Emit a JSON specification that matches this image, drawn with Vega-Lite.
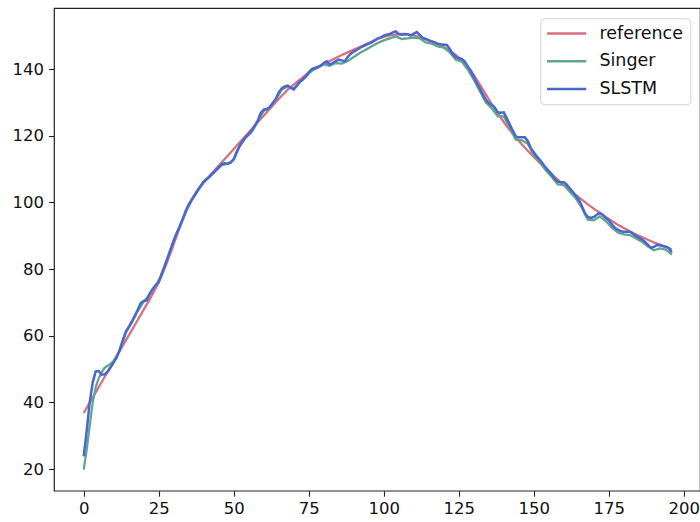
{
  "$schema": "https://vega.github.io/schema/vega-lite/v6.json",
  "width": 646,
  "height": 482.7,
  "autosize": {"type": "none"},
  "padding": {"left": 54, "top": 8, "right": 0, "bottom": 31.3},
  "background": "white",
  "config": {
    "view": {"stroke": "#222222", "strokeWidth": 1.2},
    "axis": {
      "domain": false,
      "grid": false,
      "ticks": true,
      "tickColor": "#222222",
      "tickSize": 5.5,
      "tickWidth": 1.1,
      "labelFont": "DejaVu Sans",
      "labelFontSize": 16.5,
      "labelColor": "#111111",
      "labelPadding": 4,
      "title": null
    },
    "legend": {
      "orient": "none",
      "legendX": 486.3,
      "legendY": 10.3,
      "symbolType": "M-2.8,0H2.8",
      "symbolStrokeWidth": 2.4,
      "symbolSize": 196,
      "symbolOffset": 11.1,
      "labelFont": "DejaVu Sans",
      "labelFontSize": 17.5,
      "labelColor": "#111111",
      "strokeColor": "#d0d0d0",
      "fillColor": "rgba(255,255,255,0.85)",
      "cornerRadius": 4,
      "padding": 6.5,
      "rowPadding": 8.7,
      "labelOffset": 24
    }
  },
  "datasets": {
    "reference": [
      {"x":0,"y":36.8},{"x":2,"y":39.9},{"x":4,"y":43.0},{"x":6,"y":46.1},{"x":8,"y":49.2},{"x":10,"y":52.3},{"x":12,"y":55.4},{"x":14,"y":58.5},{"x":16,"y":61.6},{"x":18,"y":64.7},{"x":20,"y":67.8},{"x":22,"y":70.9},{"x":24,"y":74.2},{"x":26,"y":78.0},{"x":28,"y":82.5},{"x":30,"y":87.5},{"x":32,"y":92.5},{"x":34,"y":97.0},{"x":36,"y":100.8},{"x":38,"y":103.8},{"x":40,"y":106.0},{"x":42,"y":108.0},{"x":44,"y":110.0},{"x":46,"y":112.0},{"x":48,"y":114.0},{"x":50,"y":116.0},{"x":52,"y":118.0},{"x":54,"y":120.0},{"x":56,"y":122.0},{"x":58,"y":124.0},{"x":60,"y":126.0},{"x":62,"y":128.0},{"x":64,"y":130.0},{"x":66,"y":132.0},{"x":68,"y":133.8},{"x":70,"y":135.3},{"x":72,"y":136.8},{"x":74,"y":138.2},{"x":76,"y":139.4},{"x":78,"y":140.5},{"x":80,"y":141.5},{"x":82,"y":142.4},{"x":84,"y":143.3},{"x":86,"y":144.2},{"x":88,"y":145.0},{"x":90,"y":145.8},{"x":92,"y":146.6},{"x":94,"y":147.4},{"x":96,"y":148.2},{"x":98,"y":149.0},{"x":100,"y":149.6},{"x":102,"y":150.1},{"x":104,"y":150.4},{"x":106,"y":150.5},{"x":108,"y":150.4},{"x":110,"y":150.1},{"x":112,"y":149.6},{"x":114,"y":149.0},{"x":116,"y":148.3},{"x":118,"y":147.5},{"x":120,"y":146.6},{"x":122,"y":145.5},{"x":124,"y":144.2},{"x":126,"y":142.6},{"x":128,"y":140.6},{"x":130,"y":138.2},{"x":132,"y":135.4},{"x":134,"y":132.4},{"x":136,"y":129.5},{"x":138,"y":126.7},{"x":140,"y":124.1},{"x":142,"y":121.7},{"x":144,"y":119.5},{"x":146,"y":117.4},{"x":148,"y":115.5},{"x":150,"y":113.6},{"x":152,"y":111.8},{"x":154,"y":110.1},{"x":156,"y":108.4},{"x":158,"y":106.8},{"x":160,"y":105.2},{"x":162,"y":103.7},{"x":164,"y":102.2},{"x":166,"y":100.8},{"x":168,"y":99.4},{"x":170,"y":98.1},{"x":172,"y":96.8},{"x":174,"y":95.6},{"x":176,"y":94.4},{"x":178,"y":93.3},{"x":180,"y":92.3},{"x":182,"y":91.3},{"x":184,"y":90.4},{"x":186,"y":89.6},{"x":188,"y":88.8},{"x":190,"y":88.0},{"x":192,"y":87.3},{"x":194,"y":86.6},{"x":196,"y":85.9}
    ],
    "singer": [
      {"x":0,"y":19.8},{"x":1,"y":25.8},{"x":2,"y":33},{"x":3,"y":40},{"x":4,"y":44.5},{"x":5,"y":47.2},{"x":6,"y":49},{"x":7,"y":50.4},{"x":8,"y":51},{"x":9,"y":51.6},{"x":10,"y":52.4},{"x":12,"y":55.5},{"x":14,"y":60.8},{"x":16,"y":63.8},{"x":18,"y":67.4},{"x":20,"y":70.2},{"x":22,"y":72.4},{"x":24,"y":75},{"x":26,"y":78.4},{"x":28,"y":83.3},{"x":30,"y":88.4},{"x":32,"y":92.6},{"x":34,"y":97.2},{"x":36,"y":100.6},{"x":38,"y":103.4},{"x":40,"y":106},{"x":42,"y":107.6},{"x":44,"y":109.4},{"x":46,"y":111.2},{"x":48,"y":111.6},{"x":50,"y":112.8},{"x":52,"y":116.8},{"x":54,"y":119.4},{"x":56,"y":121.2},{"x":58,"y":124.2},{"x":60,"y":127.4},{"x":62,"y":128.4},{"x":64,"y":130.8},{"x":66,"y":133.8},{"x":68,"y":134.8},{"x":70,"y":133.8},{"x":72,"y":136},{"x":74,"y":137.6},{"x":76,"y":139.6},{"x":78,"y":140.4},{"x":80,"y":141.4},{"x":82,"y":141},{"x":84,"y":141.8},{"x":86,"y":141.6},{"x":88,"y":142.4},{"x":90,"y":143.6},{"x":92,"y":144.8},{"x":94,"y":145.8},{"x":96,"y":146.8},{"x":98,"y":147.8},{"x":100,"y":148.6},{"x":102,"y":149.2},{"x":104,"y":149.8},{"x":106,"y":149},{"x":108,"y":149.2},{"x":110,"y":149.4},{"x":112,"y":149.2},{"x":114,"y":148},{"x":116,"y":147.6},{"x":118,"y":146.8},{"x":120,"y":146.4},{"x":122,"y":145},{"x":124,"y":142.8},{"x":126,"y":142.2},{"x":128,"y":139.8},{"x":130,"y":136.8},{"x":132,"y":133.4},{"x":134,"y":130},{"x":136,"y":128.2},{"x":138,"y":125.8},{"x":140,"y":125.8},{"x":142,"y":122.4},{"x":144,"y":118.8},{"x":146,"y":118.6},{"x":148,"y":117.6},{"x":150,"y":114.2},{"x":152,"y":112},{"x":154,"y":109.6},{"x":156,"y":107.6},{"x":158,"y":105.4},{"x":160,"y":105.2},{"x":162,"y":103.2},{"x":164,"y":101.2},{"x":166,"y":98.4},{"x":168,"y":94.8},{"x":170,"y":94.6},{"x":172,"y":95.8},{"x":174,"y":94.4},{"x":176,"y":92.4},{"x":178,"y":91},{"x":180,"y":90.4},{"x":182,"y":90.2},{"x":184,"y":89.2},{"x":186,"y":88.2},{"x":188,"y":86.8},{"x":190,"y":85.6},{"x":192,"y":86.2},{"x":194,"y":85.8},{"x":196,"y":84.3}
    ],
    "slstm": [
      {"x":0,"y":23.8},{"x":1,"y":31.5},{"x":2,"y":40},{"x":3,"y":46},{"x":4,"y":49.3},{"x":5,"y":49.4},{"x":6,"y":48.3},{"x":7,"y":48.4},{"x":8,"y":49.3},{"x":9,"y":50.5},{"x":10,"y":52},{"x":11,"y":53.5},{"x":12,"y":55.8},{"x":13,"y":58.5},{"x":14,"y":61.2},{"x":15,"y":62.6},{"x":16,"y":64.2},{"x":17,"y":66},{"x":18,"y":67.8},{"x":19,"y":69.8},{"x":20,"y":70.4},{"x":21,"y":70.6},{"x":22,"y":72.6},{"x":23,"y":74},{"x":24,"y":75.2},{"x":25,"y":76},{"x":26,"y":78.6},{"x":27,"y":81},{"x":28,"y":83.5},{"x":29,"y":86},{"x":30,"y":88.6},{"x":31,"y":90.8},{"x":32,"y":92.8},{"x":33,"y":95},{"x":34,"y":97.4},{"x":35,"y":99.4},{"x":36,"y":100.8},{"x":37,"y":102.2},{"x":38,"y":103.6},{"x":39,"y":105},{"x":40,"y":106.2},{"x":42,"y":107.8},{"x":44,"y":109.6},{"x":46,"y":111.4},{"x":47,"y":111.7},{"x":48,"y":111.6},{"x":49,"y":111.9},{"x":50,"y":113},{"x":51,"y":115.2},{"x":52,"y":117},{"x":53,"y":118.4},{"x":54,"y":119.6},{"x":56,"y":121.4},{"x":57,"y":123},{"x":58,"y":124.5},{"x":59,"y":126.8},{"x":60,"y":127.8},{"x":61,"y":128},{"x":62,"y":128.6},{"x":63,"y":129.8},{"x":64,"y":131},{"x":65,"y":133},{"x":66,"y":134.2},{"x":67,"y":134.8},{"x":68,"y":135},{"x":69,"y":134.4},{"x":70,"y":134},{"x":71,"y":135},{"x":72,"y":136.2},{"x":73,"y":136.8},{"x":74,"y":137.8},{"x":75,"y":139},{"x":76,"y":140},{"x":77,"y":140.3},{"x":78,"y":140.6},{"x":79,"y":141},{"x":80,"y":141.8},{"x":81,"y":142.3},{"x":82,"y":141.3},{"x":83,"y":141.8},{"x":84,"y":142.4},{"x":85,"y":142.8},{"x":86,"y":142.6},{"x":87,"y":142.3},{"x":88,"y":143.6},{"x":89,"y":144.6},{"x":90,"y":145.2},{"x":91,"y":145.7},{"x":92,"y":146.3},{"x":93,"y":146.8},{"x":94,"y":147.2},{"x":95,"y":147.6},{"x":96,"y":148},{"x":97,"y":148.6},{"x":98,"y":149.2},{"x":99,"y":149.5},{"x":100,"y":150},{"x":101,"y":150.3},{"x":102,"y":150.5},{"x":103,"y":151},{"x":104,"y":151.3},{"x":105,"y":150.5},{"x":106,"y":150.3},{"x":107,"y":150.5},{"x":108,"y":150.4},{"x":109,"y":150},{"x":110,"y":150.6},{"x":111,"y":151.1},{"x":112,"y":150.2},{"x":113,"y":149.3},{"x":114,"y":149},{"x":115,"y":148.6},{"x":116,"y":148.3},{"x":117,"y":148},{"x":118,"y":147.6},{"x":119,"y":147.4},{"x":120,"y":147.3},{"x":121,"y":147.2},{"x":122,"y":146},{"x":123,"y":144.5},{"x":124,"y":143.6},{"x":125,"y":143.2},{"x":126,"y":143},{"x":127,"y":142.2},{"x":128,"y":140.8},{"x":129,"y":139.5},{"x":130,"y":137.6},{"x":131,"y":135.8},{"x":132,"y":134.2},{"x":133,"y":132.5},{"x":134,"y":130.8},{"x":135,"y":129.8},{"x":136,"y":129.2},{"x":137,"y":128.4},{"x":138,"y":127},{"x":139,"y":126.9},{"x":140,"y":127},{"x":141,"y":125.2},{"x":142,"y":123.4},{"x":143,"y":121.5},{"x":144,"y":119.8},{"x":145,"y":119.5},{"x":146,"y":119.5},{"x":147,"y":119.5},{"x":148,"y":118.4},{"x":149,"y":116.3},{"x":150,"y":115},{"x":151,"y":113.8},{"x":152,"y":112.8},{"x":153,"y":111.6},{"x":154,"y":110.4},{"x":155,"y":109.4},{"x":156,"y":108.4},{"x":157,"y":107},{"x":158,"y":106.2},{"x":159,"y":106},{"x":160,"y":106},{"x":161,"y":105.3},{"x":162,"y":104.2},{"x":163,"y":103.2},{"x":164,"y":102},{"x":165,"y":100.8},{"x":166,"y":99},{"x":167,"y":96.8},{"x":168,"y":95.6},{"x":169,"y":95.3},{"x":170,"y":95.6},{"x":171,"y":96.3},{"x":172,"y":96.8},{"x":173,"y":96.2},{"x":174,"y":95.3},{"x":175,"y":94.6},{"x":176,"y":93.4},{"x":177,"y":92.4},{"x":178,"y":91.8},{"x":179,"y":91.3},{"x":180,"y":91.2},{"x":181,"y":91.2},{"x":182,"y":91.2},{"x":183,"y":90.6},{"x":184,"y":89.9},{"x":185,"y":89.4},{"x":186,"y":88.9},{"x":187,"y":88.2},{"x":188,"y":87.3},{"x":189,"y":86.4},{"x":190,"y":86.6},{"x":191,"y":87.2},{"x":192,"y":87.1},{"x":193,"y":86.9},{"x":194,"y":86.7},{"x":195,"y":86.3},{"x":196,"y":85}
    ]
  },
  "encoding": {
    "x": {"field": "x", "type": "quantitative", "scale": {"domain": [-9.9, 205.4], "nice": false, "zero": false}, "axis": {"values": [0, 25, 50, 75, 100, 125, 150, 175, 200]}},
    "y": {"field": "y", "type": "quantitative", "scale": {"domain": [13.5, 158.3], "nice": false, "zero": false}, "axis": {"values": [20, 40, 60, 80, 100, 120, 140], "labelPadding": 5}},
    "color": {"field": "series", "type": "nominal", "scale": {"domain": ["reference", "Singer", "SLSTM"], "range": ["#d9707c", "#5ea88a", "#4a66d2"]}, "legend": {"title": null}}
  },
  "layer": [
    {"data": {"name": "reference"}, "transform": [{"calculate": "'reference'", "as": "series"}], "mark": {"type": "line", "strokeWidth": 2.3, "clip": true}},
    {"data": {"name": "singer"}, "transform": [{"calculate": "'Singer'", "as": "series"}], "mark": {"type": "line", "strokeWidth": 2.3, "clip": true}},
    {"data": {"name": "slstm"}, "transform": [{"calculate": "'SLSTM'", "as": "series"}], "mark": {"type": "line", "strokeWidth": 2.5, "clip": true}}
  ]
}
